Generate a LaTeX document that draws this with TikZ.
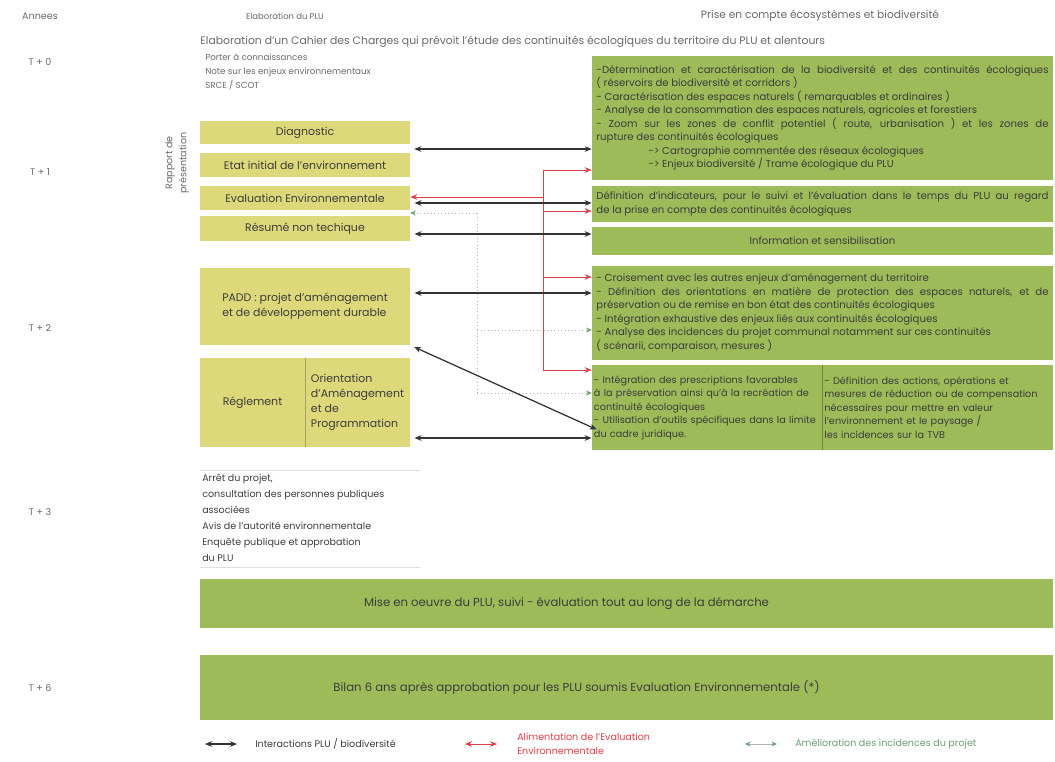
\documentclass[tikz,border=0pt]{standalone}
\usepackage{fontspec}
\setmainfont{Poppins}
\usetikzlibrary{arrows.meta, positioning, calc}
\definecolor{plujaune}{RGB}{221,217,122}
\definecolor{pluvert}{RGB}{157,187,88}
\definecolor{texte}{RGB}{60,60,60}
\definecolor{gris}{RGB}{105,105,105}
\definecolor{rouge}{RGB}{222,62,72}
\definecolor{vertfl}{RGB}{105,158,110}
\newcommand{\boitefont}{\fontsize{7.2}{9.6}\selectfont}
\newcommand{\colfont}{\fontsize{6.9}{9.6}\selectfont}
\newcommand{\barrefont}{\fontsize{8.3}{10}\selectfont}
\newcommand{\jaunefont}{\fontsize{7.8}{10.6}\selectfont}
\newcommand{\libelle}{\fontsize{6.8}{10}\selectfont}

\begin{document}
\begin{tikzpicture}[
    x=0.025cm, y=-0.025cm,
    taille/.style 2 args={minimum width=#1*0.025cm, minimum height=#2*0.025cm},
    jaune/.style={rectangle, fill=plujaune, inner sep=0pt, text=texte, font=\jaunefont, align=center},
    vert/.style={rectangle, fill=pluvert, inner sep=0pt, text=texte, font=\boitefont},
    libre/.style={text=gris, font=\libelle, inner sep=0pt},
    inter/.style={{Stealth[length=5pt,width=4pt]}-{Stealth[length=5pt,width=4pt]}, line width=0.9pt, black!80, shorten <=3pt},
    alim/.style={-{Stealth[length=5pt,width=4pt]}, line width=0.6pt, rouge},
    amel/.style={-{Stealth[length=4pt,width=3.5pt,color=vertfl]}, gray!60, dotted, line width=0.5pt}
]
\useasboundingbox (0,0) rectangle (1055,762);

\node[libre] (annees) at (40,16) {Annees};
\node[libre, font=\fontsize{6}{8}\selectfont] (elab) at (285,16) {Elaboration du PLU};
\node[libre, font=\fontsize{7.6}{9}\selectfont] (prise) at (820,16) {Prise en compte écosystèmes et biodiversité};
\node[libre, anchor=west, font=\fontsize{7.7}{9}\selectfont] (cahier) at (200,42) {Elaboration d'un Cahier des Charges qui prévoit l'étude des continuités écologiques du territoire du PLU et alentours};
\node[libre, anchor=north west, align=left, font=\fontsize{6.2}{10}\selectfont] (porter) at (205,53) {Porter à connaissances\\Note sur les enjeux environnementaux\\SRCE / SCOT};

\node[libre] (t0) at (40,62) {T + 0};
\node[libre] (t1) at (40,172) {T + 1};
\node[libre] (t2) at (40,328) {T + 2};
\node[libre] (t3) at (40,512) {T + 3};
\node[libre] (t6) at (40,688) {T + 6};

\node[libre, rotate=90, align=center] (rapport) at (177,163) {Rapport de\\présentation};

\node[jaune, taille={210}{23}] (diag) at (305,132.5) {Diagnostic};
\node[jaune, taille={210}{24}] (etat) at (305,165) {Etat initial de l'environnement};
\node[jaune, taille={210}{24}] (evalenv) at (305,198) {Evaluation Environnementale};
\node[jaune, taille={210}{25}] (resume) at (305,228.5) {Résumé non techique};
\node[jaune, taille={210}{77}, align=left] (padd) at (305,306.5) {PADD : projet d'aménagement\\et de développement durable};
\node[jaune, taille={105}{89}] (regl) at (252.5,402.5) {Réglement};
\node[jaune, taille={105}{89}, align=left] (oap) at (357.5,402.5) {Orientation\\d'Aménagement\\et de\\Programmation};
\draw[plujaune!75!black, line width=0.3pt] (oap.north west) -- (oap.south west);

\node[vert, taille={461}{124}, text width=11.3cm, align=justify] (eco) at (822.5,118) {-Détermination et caractérisation de la biodiversité et des continuités écologiques\linebreak
( réservoirs de biodiversité et corridors )\\
- Caractérisation des espaces naturels ( remarquables et ordinaires )\\
- Analyse de la consommation des espaces naturels, agricoles et forestiers\\
- Zoom sur les zones de conflit potentiel ( route, urbanisation ) et les zones de\linebreak
rupture des continuités écologiques\\
\hspace*{1.3cm}-> Cartographie commentée des réseaux écologiques\\
\hspace*{1.3cm}-> Enjeux biodiversité / Trame écologique du PLU};
\node[vert, taille={461}{36}, text width=11.3cm, align=justify] (indic) at (822.5,204) {Définition d'indicateurs, pour le suivi et l'évaluation dans le temps du PLU au regard\linebreak
de la prise en compte des continuités écologiques};
\node[vert, taille={461}{28}, align=center] (info) at (822.5,241) {Information et sensibilisation};
\node[vert, taille={461}{94}, text width=11.3cm, align=justify] (orient) at (822.5,313) {- Croisement avec les autres enjeux d'aménagement du territoire\\
- Définition des orientations en matière de protection des espaces naturels, et de\linebreak
préservation ou de remise en bon état des continuités écologiques\\
- Intégration exhaustive des enjeux liés aux continuités écologiques\\
- Analyse des incidences du projet communal notamment sur ces continuités\\
( scénarii, comparaison, mesures )};
\node[vert, taille={230}{85}, text width=5.65cm, align=left, font=\colfont] (presc) at (707,407.5) {- Intégration des prescriptions favorables\\
à la préservation ainsi qu'à la recréation de\\
continuité écologiques\\
- Utilisation d'outils spécifiques dans la limite\\
du cadre juridique.};
\node[vert, taille={231}{85}, text width=5.65cm, align=left, font=\colfont] (mesur) at (937.5,407.5) {- Définition des actions, opérations et\\
mesures de réduction ou de compensation\\
nécessaires pour mettre en valeur\\
l'environnement et le paysage /\\
les incidences sur la TVB};
\draw[pluvert!70!black, line width=0.3pt] (mesur.north west) -- (mesur.south west);

\draw[gray!25] (200,470) -- (420,470);
\node[libre, text=texte, anchor=north west, align=left, font=\fontsize{6.8}{11.4}\selectfont] (arret) at (202,474) {Arrêt du projet,\\consultation des personnes publiques\\associées\\Avis de l'autorité environnementale\\Enquête publique et approbation\\du PLU};
\draw[gray!25] (200,567) -- (420,567);

\node[vert, taille={853}{49}] (mise) at (626.5,603.5) {};
\node[vert, fill=none, font=\barrefont] (misetxt) at ($(mise.center)+(-60,0)$) {Mise en oeuvre du PLU, suivi - évaluation tout au long de la démarche};
\node[vert, taille={853}{65}] (bilan) at (626.5,687.5) {};
\node[vert, fill=none, font=\barrefont] (bilantxt) at ($(bilan.center)+(-50,0)$) {Bilan 6 ans après approbation pour les PLU soumis Evaluation Environnementale (*)};

\coordinate (rtop) at (543,170);
\coordinate (r1) at (543,197);
\coordinate (r2) at (543,211);
\coordinate (r3) at (543,277);
\coordinate (rbot) at (543,370);
\draw[rouge, line width=0.6pt] (rtop) -- (rbot);
\draw[alim] (rtop) -- (eco.west |- rtop);
\draw[alim] (r1) -- (evalenv.east |- r1);
\draw[alim] (r2) -- (indic.west |- r2);
\draw[alim] (r3) -- (orient.west |- r3);
\draw[alim] (rbot) -- (presc.west |- rbot);

\coordinate (gtop) at (477,213);
\coordinate (g1) at (477,330);
\coordinate (gbot) at (477,393);
\draw[gray!60, dotted, line width=0.5pt] (gtop) -- (gbot);
\draw[amel] (gtop) -- (evalenv.east |- gtop);
\draw[amel] (g1) -- (orient.west |- g1);
\draw[amel] (gbot) -- (presc.west |- gbot);

\coordinate (b0) at (410,149);
\coordinate (b1) at (500,203);
\coordinate (b2) at (500,234);
\coordinate (b3) at (500,293);
\coordinate (b4) at (500,438);
\draw[inter] (b0) -- (eco.west |- b0);
\draw[inter] (evalenv.east |- b1) -- (indic.west |- b1);
\draw[inter] (resume.east |- b2) -- (info.west |- b2);
\draw[inter] (padd.east |- b3) -- (orient.west |- b3);
\draw[inter] (padd.south east) -- ($(presc.west)+(5,22)$);
\draw[inter] (oap.east |- b4) -- (presc.west |- b4);

\coordinate (la1) at (205,744);
\coordinate (la2) at (237,744);
\draw[inter, shorten <=0pt] (la1) -- (la2);
\node[libre, text=texte, anchor=west] (lginter) at (255,744) {Interactions PLU / biodiversité};
\coordinate (lb1) at (465,744);
\coordinate (lb2) at (497,744);
\draw[alim, {Stealth[length=5pt,width=4pt]}-{Stealth[length=5pt,width=4pt]}] (lb1) -- (lb2);
\node[libre, text=rouge, anchor=west, align=left] (lgalim) at (517,744) {Alimentation de l'Evaluation\\Environnementale};
\coordinate (lc1) at (745,744);
\coordinate (lc2) at (777,744);
\draw[{Stealth[length=4pt,width=3.5pt,color=vertfl]}-{Stealth[length=4pt,width=3.5pt,color=vertfl]}, gray!60, line width=0.6pt] (lc1) -- (lc2);
\node[libre, text=vertfl, anchor=west] (lgamel) at (795,744) {Amélioration des incidences du projet};

\end{tikzpicture}
\end{document}
